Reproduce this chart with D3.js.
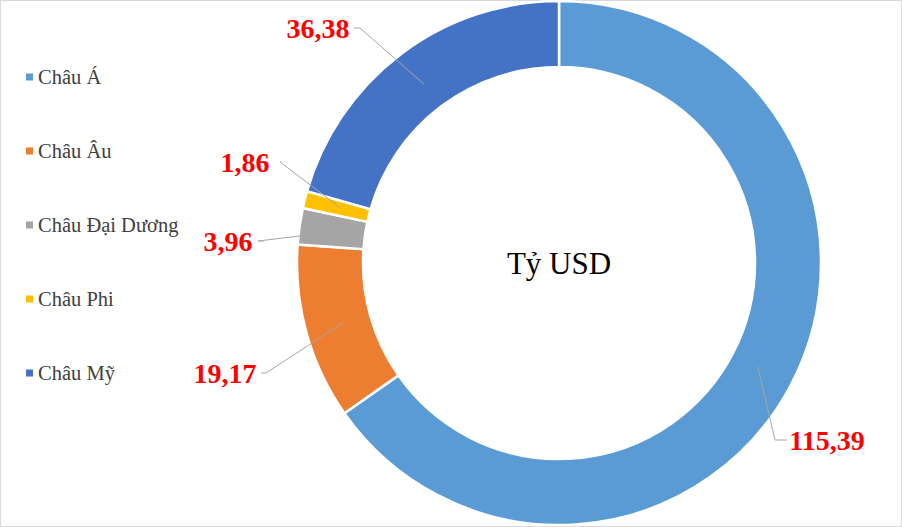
<!DOCTYPE html>
<html><head><meta charset="utf-8">
<script src="https://cdn.jsdelivr.net/npm/d3@7"></script>
<style>body{margin:0;background:#fff}</style></head>
<body><svg id="c" width="902" height="527"></svg>
<script>
const categories = ["Châu Á","Châu Âu","Châu Đại Dương","Châu Phi","Châu Mỹ"];
const values = [115.39, 19.17, 3.96, 1.86, 36.38];
const labels = ["115,39","19,17","3,96","1,86","36,38"];
const colors = ["#5B9BD5","#ED7D31","#A5A5A5","#FFC000","#4472C4"];

// layout: label text anchor points (layout only)
const labelPos = [[827,440],[225,373],[228,241],[245,162],[318,28]];
const elbow = [[775,440],[266,373],[258,241],[280,162],[360,28]];

const svg = d3.select("#c");
svg.append("rect").attr("x",0.5).attr("y",0.5).attr("width",901).attr("height",526)
  .attr("fill","#fff").attr("stroke","#d9d9d9");
const cx=559, cy=263, R=262, r=196;
const pie = d3.pie().sort(null).value(d=>d);
const arcs = pie(values);
const arc = d3.arc().innerRadius(r).outerRadius(R);
const g = svg.append("g").attr("transform",`translate(${cx},${cy})`);
g.selectAll("path").data(arcs).join("path").attr("d",arc)
  .attr("fill",(d,i)=>colors[i]).attr("stroke","#fff").attr("stroke-width",2.5);

const mid = d3.arc().innerRadius((R+r)/2-5).outerRadius((R+r)/2-5);
arcs.forEach((d,i)=>{
  const [mx,my] = mid.centroid(d);
  const p = [mx+cx,my+cy];
  svg.append("polyline").attr("points",[p,elbow[i],[labelPos[i][0]+(i==0?-40:36),labelPos[i][1]]].map(q=>q.join(",")).join(" "))
    .attr("fill","none").attr("stroke","#a6a6a6").attr("stroke-width",1);
  svg.append("text").attr("x",labelPos[i][0]).attr("y",labelPos[i][1]).attr("dy","0.35em")
    .attr("text-anchor","middle").attr("font-family","Liberation Serif").attr("font-weight","bold")
    .attr("font-size",28).attr("fill","#FF0000").text(labels[i]);
});
svg.append("text").attr("x",cx).attr("y",cy).attr("dy","0.35em").attr("text-anchor","middle")
  .attr("font-family","Liberation Serif").attr("font-size",31).attr("fill","#000").text("Tỷ USD");

const ly = d3.scalePoint().domain(categories).range([77,373]);
categories.forEach((c,i)=>{
  svg.append("rect").attr("x",26).attr("y",ly(c)-3.5).attr("width",7).attr("height",7).attr("fill",colors[i]);
  svg.append("text").attr("x",38).attr("y",ly(c)).attr("dy","0.35em").attr("font-family","Liberation Serif")
    .attr("font-size",20.5).attr("fill","#404040").text(c);
});
</script></body></html>
